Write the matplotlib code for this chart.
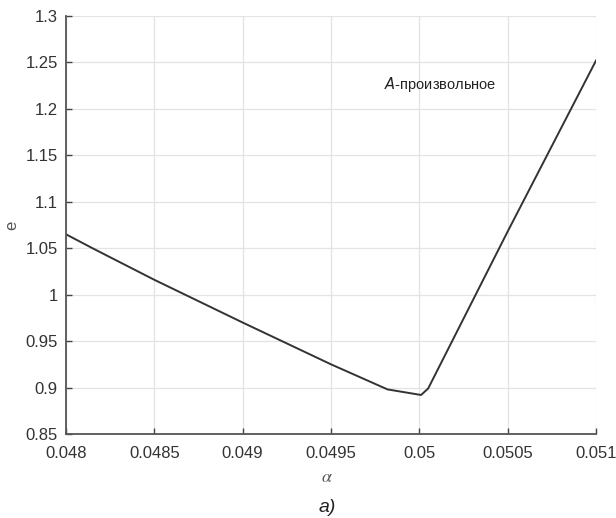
import numpy as np
import matplotlib
matplotlib.use('Agg')
import matplotlib.pyplot as plt

plt.rcParams['font.family'] = ['Liberation Sans', 'DejaVu Sans']
plt.rcParams['mathtext.fontset'] = 'stix'

# данные кривой e(alpha)
alpha = [0.0480, 0.04815, 0.0485, 0.0490, 0.0495, 0.04982, 0.05001, 0.05005, 0.0505, 0.0510]
e_vals = [1.065, 1.050, 1.016, 0.970, 0.925, 0.898, 0.892, 0.899, 1.068, 1.252]

xticks = [0.048, 0.0485, 0.049, 0.0495, 0.05, 0.0505, 0.051]
xticklabels = ['0.048', '0.0485', '0.049', '0.0495', '0.05', '0.0505', '0.051']
yticks = [0.85, 0.9, 0.95, 1.0, 1.05, 1.1, 1.15, 1.2, 1.25, 1.3]
yticklabels = ['0.85', '0.9', '0.95', '1', '1.05', '1.1', '1.15', '1.2', '1.25', '1.3']

fig = plt.figure(figsize=(6.16, 5.18), dpi=100)
ax = fig.add_axes([66/616, 1 - 434/518, 530/616, 418/518])

ax.plot(alpha, e_vals, color='#333333', linewidth=1.4)

ax.set_xlim(0.048, 0.051)
ax.set_ylim(0.85, 1.3)
ax.set_xticks(xticks)
ax.set_xticklabels(xticklabels)
ax.set_yticks(yticks)
ax.set_yticklabels(yticklabels)
ax.tick_params(direction='in', length=4, width=1, colors='#444444',
               labelsize=12, labelcolor='#333333')
ax.tick_params(axis='x', pad=9)
ax.tick_params(axis='y', pad=6)
ax.grid(True, color='#e3e3e3', linewidth=0.9)
for s in ['top', 'right']:
    ax.spines[s].set_visible(False)
for s in ['left', 'bottom']:
    ax.spines[s].set_color('#555555')
    ax.spines[s].set_linewidth(1.3)

ax.set_xlabel(r'$\alpha$', fontsize=13, color='#555555', va='center')
ax.xaxis.set_label_coords((327 - 66) / 530, -(478 - 434) / 418)
ax.set_ylabel('e', fontsize=12, color='#555555', va='center')
ax.yaxis.set_label_coords((12 - 66) / 530, 0.5)

ax.text(0.04980, 1.226, r'$\mathit{A}$-произвольное', fontsize=10.5, color='#222222',
        va='center', ha='left', math_fontfamily='dejavusans')

fig.text(327/616, 1 - 508/518, 'a)', fontsize=14, style='italic', ha='center', va='center',
         color='#222222')

plt.savefig('out.png', dpi=100)
plt.close()
